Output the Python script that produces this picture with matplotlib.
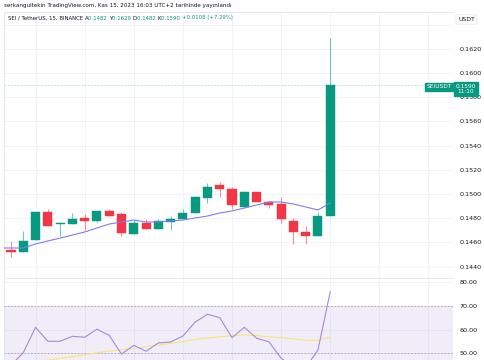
import matplotlib.pyplot as plt
import numpy as np

# SEI / USDT 15m candles
opens  = [0.14537, 0.14521, 0.14620, 0.14851, 0.14752, 0.14752, 0.14802, 0.14777, 0.14860,
          0.14835, 0.14669, 0.14760, 0.14711, 0.14769, 0.14793, 0.14843, 0.14967, 0.15074,
          0.15041, 0.14893, 0.15017, 0.14934, 0.14917, 0.14777, 0.14686, 0.14653, 0.14820]
highs  = [0.14612, 0.14694, 0.14851, 0.14876, 0.14769, 0.14843, 0.14835, 0.14860, 0.14876,
          0.14851, 0.14785, 0.14793, 0.14793, 0.14818, 0.14876, 0.14984, 0.15091, 0.15099,
          0.15058, 0.15025, 0.15017, 0.14942, 0.14975, 0.14802, 0.14736, 0.14851, 0.16290]
lows   = [0.14479, 0.14521, 0.14620, 0.14736, 0.14653, 0.14752, 0.14702, 0.14769, 0.14818,
          0.14653, 0.14669, 0.14711, 0.14711, 0.14702, 0.14793, 0.14843, 0.14926, 0.14975,
          0.14876, 0.14893, 0.14934, 0.14884, 0.14760, 0.14587, 0.14587, 0.14653, 0.14820]
closes = [0.14521, 0.14612, 0.14851, 0.14736, 0.14760, 0.14793, 0.14777, 0.14860, 0.14818,
          0.14678, 0.14760, 0.14711, 0.14777, 0.14793, 0.14843, 0.14975, 0.15058, 0.15041,
          0.14909, 0.15017, 0.14934, 0.14909, 0.14793, 0.14686, 0.14653, 0.14818, 0.15900]

# moving average (first value belongs to the bar before the visible range)
ma_x = list(range(-1, 27))
ma = [0.14554, 0.14554, 0.14554, 0.14587, 0.14612, 0.14636, 0.14661, 0.14686, 0.14719, 0.14752,
      0.14769, 0.14785, 0.14769, 0.14769, 0.14777, 0.14785, 0.14802, 0.14818, 0.14843,
      0.14860, 0.14884, 0.14909, 0.14934, 0.14934, 0.14917, 0.14893, 0.14868, 0.14926]

rsi = [45.0, 50.3, 61.0, 55.1, 55.1, 57.2, 56.8, 60.2, 57.6, 49.7, 53.4, 50.9, 54.4, 54.8,
       57.3, 63.2, 66.5, 65.1, 56.6, 61.0, 56.4, 54.9, 48.0, 44.0, 44.0, 51.4, 76.0]
rsi_ma = [44.0, 45.5, 46.5, 47.2, 47.9, 48.6, 49.4, 50.3, 50.9, 51.5, 52.1, 52.8, 53.5, 54.2,
          55.0, 55.9, 56.5, 57.0, 57.4, 57.8, 57.5, 57.0, 56.6, 56.1, 55.5, 55.5, 56.8]

price_ticks = [0.1440, 0.1460, 0.1480, 0.1500, 0.1520, 0.1540, 0.1560, 0.1580, 0.1600, 0.1620]
rsi_ticks = [50, 60, 70, 80]

GREEN = '#089981'
RED = '#F23645'
TXT = '#131722'
GRID = '#f0f3fa'

W, H = 485, 360
fig = plt.figure(figsize=(W / 100, H / 100), dpi=100)
fig.patch.set_facecolor('white')

def box(x0, y0, x1, y1):
    return [x0 / W, 1 - y1 / H, (x1 - x0) / W, (y1 - y0) / H]

ax = fig.add_axes(box(4, 12, 453, 278))
ax2 = fig.add_axes(box(4, 278, 453, 360))

n = len(opens)
xs = np.arange(n)
for i in range(n):
    col = GREEN if closes[i] >= opens[i] else RED
    ax.vlines(xs[i], lows[i], highs[i], color=col, lw=0.8, alpha=0.55, zorder=2)
    lo = min(opens[i], closes[i])
    h = max(abs(closes[i] - opens[i]), 0.00002)
    ax.bar(xs[i], h, bottom=lo, width=0.74, color=col, edgecolor=col, lw=0.3, zorder=3)

ax.plot(ma_x, ma, color='#7f7cf2', lw=0.8, zorder=4)
ax.axhline(closes[-1], color=GREEN, lw=0.6, alpha=0.35, dashes=(2, 2), zorder=1)

xlim = (-0.57, 36.0)
grid_x = list(range(2, 36, 4))
ax.set_xlim(*xlim)
ax.set_ylim(0.14306, 0.16504)
ax.set_xticks(grid_x)
ax.set_yticks(price_ticks + [0.1640])
ax.set_yticklabels(['%.4f' % p for p in price_ticks] + [''])
ax.grid(True, color=GRID, lw=0.7)
ax.set_axisbelow(True)
ax.yaxis.tick_right()
ax.tick_params(axis='y', length=0, pad=5, labelsize=4.6, labelcolor=TXT)
ax.tick_params(axis='x', length=0, labelbottom=False)
for s in ax.spines.values():
    s.set_color('#e0e3eb')
    s.set_linewidth(0.6)
ax.spines['right'].set_visible(False)

# RSI pane
ax2.fill_between([xlim[0], xlim[1]], 30, 70, color='#7e57c2', alpha=0.1, lw=0)
for lv in (70, 50, 30):
    ax2.axhline(lv, color='#787b86', lw=0.6, alpha=0.6, dashes=(2, 2))
ax2.plot(xs, rsi, color='#a48ad8', lw=0.8, zorder=3)
ax2.plot(xs, rsi_ma, color='#fbe37a', lw=0.8, zorder=2)
ax2.set_xlim(*xlim)
ax2.set_ylim(47.2, 81.8)
ax2.set_xticks(grid_x)
ax2.set_yticks(rsi_ticks)
ax2.set_yticklabels(['%.2f' % v for v in rsi_ticks])
ax2.grid(True, color=GRID, lw=0.7)
ax2.set_axisbelow(True)
ax2.yaxis.tick_right()
ax2.tick_params(axis='y', length=0, pad=5, labelsize=4.6, labelcolor=TXT)
ax2.tick_params(axis='x', length=0, labelbottom=False)
for s in ax2.spines.values():
    s.set_color('#e0e3eb')
    s.set_linewidth(0.6)
ax2.spines['right'].set_visible(False)
ax2.spines['bottom'].set_visible(False)

# header texts
fig.text(4 / W, 1 - 6 / H, 'serkangultekin TradingView.com, Kas 15, 2023 16:03 UTC+2 tarihinde yayınlandı',
         fontsize=4.05, color=TXT, va='center', ha='left')

pieces = [('SEI / TetherUS, 15, BINANCE ', TXT), ('A', TXT), ('0.1482 ', GREEN), ('Y', TXT),
          ('0.1629 ', GREEN), ('D', TXT), ('0.1482 ', GREEN), ('K', TXT), ('0.1590 ', GREEN),
          ('+0.0108 (+7.29%)', GREEN)]
r = fig.canvas.get_renderer()
x = 8 / W
for s, c in pieces:
    t = fig.text(x, 1 - 18 / H, s, fontsize=3.9, color=c, va='center', ha='left')
    bb = t.get_window_extent(renderer=r)
    x += bb.width / fig.bbox.width

# right side labels
fig.text(466.5 / W, 1 - 19.5 / H, 'USDT', fontsize=4.4, color=TXT, ha='center', va='center',
         bbox=dict(boxstyle='round,pad=0.35,rounding_size=0.2', fc='white', ec='#e0e3eb', lw=0.5))
fig.text(439.5 / W, 1 - 87 / H, 'SEIUSDT', fontsize=4.2, color='white', ha='center', va='center',
         bbox=dict(boxstyle='square,pad=0.25', fc=GREEN, ec=GREEN), zorder=10)
fig.text(466 / W, 1 - 89 / H, '0.1590\n11:10', fontsize=4.2, color='white', ha='center', va='center',
         linespacing=1.1, bbox=dict(boxstyle='square,pad=0.25', fc=GREEN, ec=GREEN), zorder=10)

fig.savefig('out.png', dpi=100)
